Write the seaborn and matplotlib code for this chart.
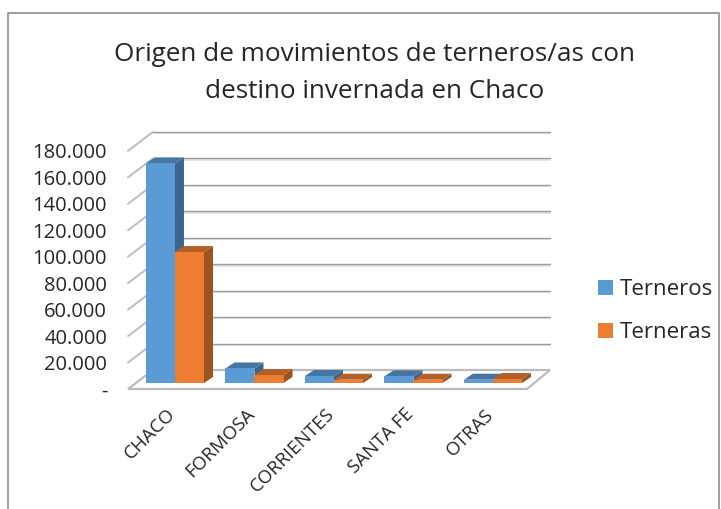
import matplotlib
matplotlib.use("Agg")
import matplotlib.pyplot as plt
import matplotlib.colors as mcolors
from matplotlib.patches import Polygon, Patch
from matplotlib.lines import Line2D
from matplotlib.transforms import ScaledTranslation, IdentityTransform
import seaborn as sns
import pandas as pd

categories = ["CHACO", "FORMOSA", "CORRIENTES", "SANTA FE", "OTRAS"]
terneros = [166000, 11000, 5300, 5000, 2500]
terneras = [99000, 6000, 2500, 2500, 3000]
series_names = ["Terneros", "Terneras"]
y_ticks = [0, 20000, 40000, 60000, 80000, 100000, 120000, 140000, 160000, 180000]
y_labels = ["-", "20.000", "40.000", "60.000", "80.000", "100.000", "120.000", "140.000", "160.000", "180.000"]
title = "Origen de movimientos de terneros/as con\ndestino invernada en Chaco"
colors = ["#5B9BD5", "#ED7D31"]

W, H = 721, 509
sns.set_theme(style="white")
plt.rcParams["font.family"] = ["Open Sans", "DejaVu Sans"]
fig = plt.figure(figsize=(W / 100, H / 100), dpi=100, facecolor="white")
ax = fig.add_axes([128 / W, (H - 383) / H, (550 - 128) / W, (383 - 131.7) / H])
ax.patch.set_alpha(0)

df = pd.DataFrame({
    "cat": categories * 2,
    "val": terneros + terneras,
    "serie": [series_names[0]] * 5 + [series_names[1]] * 5,
})
sns.barplot(data=df, x="cat", y="val", hue="serie", palette=colors, saturation=1,
            width=0.73, gap=0, legend=False, ax=ax, zorder=5)
ax.set_xlim(-0.591, 4.717)
ax.set_ylim(0, 190000)
ax.set_xlabel("")
ax.set_ylabel("")
sns.despine(ax=ax, left=True, bottom=True, top=True, right=True)

def off(dx, dy):
    return ScaledTranslation(dx / 100, dy / 100, fig.dpi_scale_trans)

def darker(c, f):
    r, g, b = mcolors.to_rgb(c)
    return (r * f, g * f, b * f)

def px(x, y, dx=0, dy=0):
    return tuple(ax.transData.transform((x, y)) + (dx, dy))

ident = IdentityTransform()

# 3D depth of each bar, derived from the drawn bars
DX, DY = 9, 6
bars = list(ax.patches)
n_cat = len(categories)
for i, bar in enumerate(bars):
    col = colors[i // n_cat]
    x0, w, h = bar.get_x(), bar.get_width(), bar.get_height()
    z = 3 + 0.01 * i + (0.5 if i >= n_cat else 0)
    ax.add_patch(Polygon([px(x0 + w, 0), px(x0 + w, h), px(x0 + w, h, DX, DY), px(x0 + w, 0, DX, DY)],
                         closed=True, transform=ident, fc=darker(col, 0.66), ec="none", zorder=z, clip_on=False))
    ax.add_patch(Polygon([px(x0, h), px(x0 + w, h), px(x0 + w, h, DX, DY), px(x0, h, DX, DY)],
                         closed=True, transform=ident, fc=darker(col, 0.76), ec="none", zorder=z, clip_on=False))
    bar.set_zorder(5)
    bar.set_linewidth(0)

# Back wall, depth diagonals and floor
x_back0, x_back1 = -0.591 + 25 / 79.5, 4.717
x_front0, x_front1 = -0.591, 4.717 - 23 / 79.5
for v in y_ticks[1:]:
    ax.add_line(Line2D([x_back0, x_back1], [v, v], color="#e0e0e0", lw=1.3,
                       transform=ax.transData + off(0, 11.6), clip_on=False, zorder=0.9))
    ax.add_line(Line2D([x_back0, x_back1], [v, v], color="#9c9c9c", lw=1.0,
                       transform=ax.transData + off(0, 13), clip_on=False, zorder=1))
    a, b = px(x_front0, v, 0, -6), px(x_back0, v, 0, 13)
    ax.add_line(Line2D([a[0], b[0]], [a[1], b[1]], color="#bdbdbd", lw=1.4, transform=ident, clip_on=False, zorder=1))
floor = [px(x_front0, 0, 0, -6), px(x_back0, 0, 0, 13), px(x_back1, 0, 0, 13), px(x_front1, 0, 0, -6)]
ax.add_patch(Polygon(floor, closed=True, transform=ident, fc="white", ec="#bcbcbc", lw=1.6, zorder=1.5, clip_on=False))

# Tick labels
ax.set_yticks(y_ticks)
ax.set_yticklabels(y_labels, fontsize=14.5, color="#262626")
ax.tick_params(axis="y", length=0, pad=15)
for lab in ax.get_yticklabels():
    lab.set_transform(lab.get_transform() + off(0, -6))
ax.set_xticks(range(n_cat))
ax.set_xticklabels(categories, fontsize=13.5, color="#262626", rotation=45, ha="right",
                   rotation_mode="anchor", va="top")
ax.tick_params(axis="x", length=0, pad=16)
for lab in ax.get_xticklabels():
    lab.set_transform(lab.get_transform() + off(-9, 0))

# Title
fig.text(375 / W, 1 - 73 / H, title, ha="center", va="center", fontsize=18.8, color="#262626", linespacing=1.6)

# Legend
handles = [Patch(fc=c, ec="none", label=s) for c, s in zip(colors, series_names)]
fig.legend(handles=handles, loc="center left", bbox_to_anchor=(594 / W, 1 - 311 / H), frameon=False,
           fontsize=16, handlelength=0.65, handleheight=0.65, handletextpad=0.3, labelspacing=1.0,
           labelcolor="#262626", borderpad=0.2, borderaxespad=0)

# Outer frame
fig.add_artist(Line2D([7.5 / W, 7.5 / W, 719 / W, 719 / W], [0, 1 - 12.5 / H, 1 - 12.5 / H, 0],
                      color="#8f8f8f", lw=1.2, transform=fig.transFigure))

fig.savefig("out.png", dpi=100)
